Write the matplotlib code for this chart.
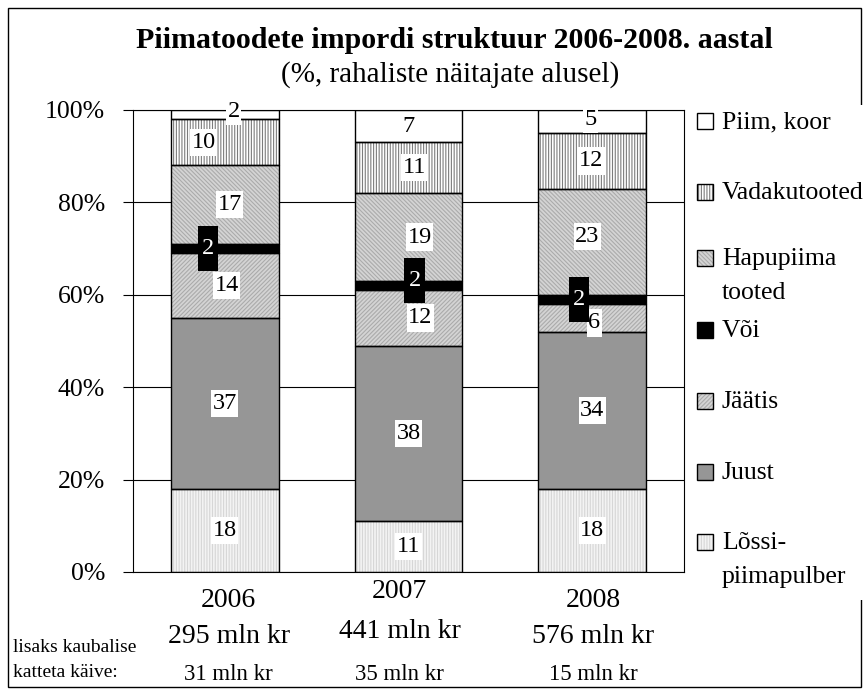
import matplotlib
matplotlib.use('Agg')
import matplotlib.pyplot as plt
from matplotlib.patches import Rectangle
from matplotlib.transforms import blended_transform_factory
import numpy as np

plt.rcParams['font.family'] = ['Liberation Serif', 'DejaVu Serif']
plt.rcParams['hatch.linewidth'] = 0.8

# ---------------- data ----------------
years = ['2006', '2007', '2008']
totals = ['295 mln kr', '441 mln kr', '576 mln kr']
extras = ['31 mln kr', '35 mln kr', '15 mln kr']
series = ['Lõssipiimapulber', 'Juust', 'Jäätis', 'Või',
          'Hapupiima tooted', 'Vadakutooted', 'Piim, koor']
legend_labels = ['Lõssi-\npiimapulber', 'Juust', 'Jäätis', 'Või',
                 'Hapupiima\ntooted', 'Vadakutooted', 'Piim, koor']
lossipiimapulber = [18, 11, 18]
juust = [37, 38, 34]
jaatis = [14, 12, 6]
voi = [2, 2, 2]
hapupiima = [17, 19, 23]
vadakutooted = [10, 11, 12]
piim_koor = [2, 7, 5]
values = [lossipiimapulber, juust, jaatis, voi, hapupiima, vadakutooted, piim_koor]
title = 'Piimatoodete impordi struktuur 2006-2008. aastal'
subtitle = '(%, rahaliste näitajate alusel)'
note_lines = ['lisaks kaubalise', 'katteta käive:']

# ---------------- styles / layout ----------------
styles = [
    dict(fc='#f3f3f3', hatch='||||||', hc='#d6d6d6'),   # Lõssipiimapulber
    dict(fc='#969696', hatch=None, hc='#969696'),       # Juust
    dict(fc='#d4d4d4', hatch='////////', hc='#ababab'),  # Jäätis
    dict(fc='#000000', hatch=None, hc='#000000'),       # Või
    dict(fc='#d4d4d4', hatch='\\' * 8, hc='#ababab'),   # Hapupiima
    dict(fc='#ffffff', hatch='||||||', hc='#7c7c7c'),   # Vadakutooted
    dict(fc='#ffffff', hatch=None, hc='#ffffff'),       # Piim, koor
]
# label offsets in pixels (dx right, dy down) per series, per year
label_dx = [[0, 0, 0], [0, 0, 0], [2, 12, 2], [-17, 6, -13],
            [5, 11, -5], [-21, 6, -1], [9, 0, -2]]
label_dy = [[0, 0, 0], [0, 0, 0], [0, 0, 5], [0, -5, 0],
            [0, 0, -5], [0, 0, 0], [-3, 0, -2]]

W, H = 868, 693
fig = plt.figure(figsize=(W / 100, H / 100), dpi=100)
ax = fig.add_axes([133 / W, 1 - 572 / H, 551 / W, 462 / H])

x = np.arange(len(years))
bw = 0.588
bottom = np.zeros(len(years))
for i, vals in enumerate(values):
    st = styles[i]
    vals = np.array(vals, dtype=float)
    ax.bar(x, vals, bw, bottom=bottom, color=st['fc'], hatch=st['hatch'],
           edgecolor=st['hc'], linewidth=0, zorder=2)
    ax.bar(x, vals, bw, bottom=bottom, fill=False, edgecolor='black',
           linewidth=1.0, zorder=3)
    for j in range(len(years)):
        is_voi = series[i] == 'Või'
        ax.annotate(f'{int(vals[j])}', xy=(x[j], bottom[j] + vals[j] / 2),
                    xytext=(label_dx[i][j] * 0.72, -label_dy[i][j] * 0.72),
                    textcoords='offset points', ha='center', va='center',
                    fontsize=17.5, color='white' if is_voi else 'black',
                    bbox=dict(boxstyle='square,pad=0.17' if is_voi else 'square,pad=0.06',
                              fc='black' if is_voi else 'white', ec='none',
                              mutation_aspect=3.0 if is_voi else 2.2),
                    zorder=6)
    bottom += vals

ax.set_xlim(-0.5, len(years) - 0.5)
ax.set_ylim(0, 100)
ax.set_yticks(np.arange(0, 101, 20))
ax.set_yticklabels([f'{v}%' for v in range(0, 101, 20)])
ax.set_xticks([])
ax.tick_params(axis='y', length=7.2, width=0.8, pad=13, labelsize=18.5, color='black')
ax.yaxis.grid(True, color='black', linewidth=0.8)
ax.set_axisbelow(True)
for s in ax.spines.values():
    s.set_color('black')
    s.set_linewidth(0.8)

# category texts below
tr = blended_transform_factory(ax.transData, fig.transFigure)
cat_dx = [4, -9, 1]
year_base = [607, 598, 607]
total_base = [643, 638, 643]
extra_base = [680, 680, 680]
for j in range(len(years)):
    xx = x[j] + cat_dx[j] * (1.0 / 183.67)
    ax.text(xx, 1 - year_base[j] / H, years[j], transform=tr, ha='center',
            va='baseline', fontsize=20)
    ax.text(xx, 1 - total_base[j] / H, totals[j], transform=tr, ha='center',
            va='baseline', fontsize=20)
    ax.text(xx, 1 - extra_base[j] / H, extras[j], transform=tr, ha='center',
            va='baseline', fontsize=16.5)
for k, (line, yb) in enumerate(zip(note_lines, [652, 677])):
    fig.text(13 / W, 1 - yb / H, line, ha='left', va='baseline', fontsize=14)

# title
fig.text(454 / W, 1 - 40 / H, title, ha='center', va='center', fontsize=21.5,
         fontweight='bold')
fig.text(450 / W, 1 - 75 / H, subtitle, ha='center', va='center', fontsize=21)

# figure border
fig.add_artist(Rectangle((8 / W, 1 - 687 / H), 853 / W, 679 / H, transform=fig.transFigure,
                         fill=False, edgecolor='black', linewidth=1.0))

# legend (top to bottom: reversed series order)
leg_y = [121, 192, 258, 330, 401, 472, 542]
order = list(range(len(series)))[::-1]
fig.add_artist(Rectangle((690 / W, 1 - 600 / H), 178 / W, 495 / H, transform=fig.transFigure,
                         facecolor='white', edgecolor='none'))
for yc, i in zip(leg_y, order):
    st = styles[i]
    fig.add_artist(Rectangle((697 / W, 1 - (yc + 8) / H), 16 / W, 16 / H,
                             transform=fig.transFigure, facecolor=st['fc'],
                             hatch=st['hatch'], edgecolor=st['hc'], linewidth=0))
    fig.add_artist(Rectangle((697 / W, 1 - (yc + 8) / H), 16 / W, 16 / H,
                             transform=fig.transFigure, fill=False,
                             edgecolor='black', linewidth=1.0))
    for li, line in enumerate(legend_labels[i].split('\n')):
        fig.text(722 / W, 1 - (yc + 7 + 34 * li) / H, line, ha='left',
                 va='baseline', fontsize=18.5)

fig.savefig('out.png', dpi=100)
